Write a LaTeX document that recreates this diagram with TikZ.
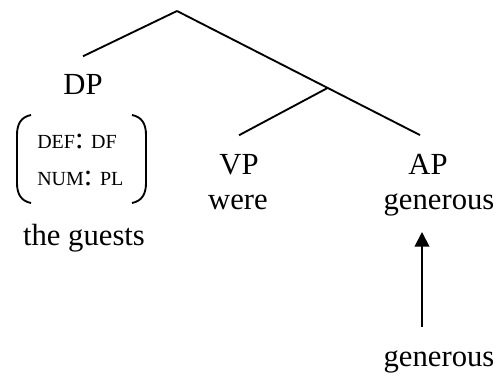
\documentclass[tikz,border=0pt]{standalone}
\usepackage{fontspec}
\setmainfont{Liberation Serif}
\usetikzlibrary{positioning}
\usetikzlibrary{arrows.meta}

\tikzset{
  cat/.style={font=\fontsize{23}{26}\selectfont, inner sep=0pt, outer sep=14pt, anchor=base},
  word/.style={font=\fontsize{23}{26}\selectfont, inner sep=0pt, anchor=base},
  feat/.style={font=\fontsize{23}{26}\selectfont, inner sep=0pt, anchor=base west},
  branch/.style={line width=1.4pt},
  arr/.style={line width=1.4pt, -{Triangle[length=11pt,width=11pt]}}
}
\newcommand{\fsc}[1]{{\fontsize{15}{18}\selectfont #1}}

\begin{document}
\begin{tikzpicture}[x=0.75pt, y=-0.75pt]
 \useasboundingbox (0,0) rectangle (499,374);
 \coordinate (root) at (177,11);
 \node[cat] (dp) at (83,95) {DP};
 \node[cat] (vp) at (239,174) {VP};
 \node[cat] (ap) at (428,174) {AP};
 \node[feat] (def) at (37,148) {\fsc{DEF}: \fsc{DF}};
 \node[feat] (num) at (37,185) {\fsc{NUM}: \fsc{PL}};
 \node[word] (guests) at (84,245) {the guests};
 \node[word] (were) at (238,209) {were};
 \node[word] (gen) at (439,209) {generous};
 \node[word] (lex) at (439,366) {generous};
 \draw[branch] (root) -- (dp.north);
 \draw[branch] (root) -- ([xshift=-6pt]ap.north) coordinate[pos=0.62] (vbar);
 \draw[branch] (vbar) -- (vp.north);
 \draw[branch] (31,115) .. controls (21,117) and (17,124) .. (17,135) -- (17,183) .. controls (17,194) and (21,201) .. (31,203);
 \draw[branch] (132,115) .. controls (142,117) and (146,124) .. (146,135) -- (146,183) .. controls (146,194) and (142,201) .. (132,203);
 \coordinate (tail) at (422,327);
 \coordinate (head) at (422,232);
 \draw[arr] (tail) -- (head);
\end{tikzpicture}
\end{document}
